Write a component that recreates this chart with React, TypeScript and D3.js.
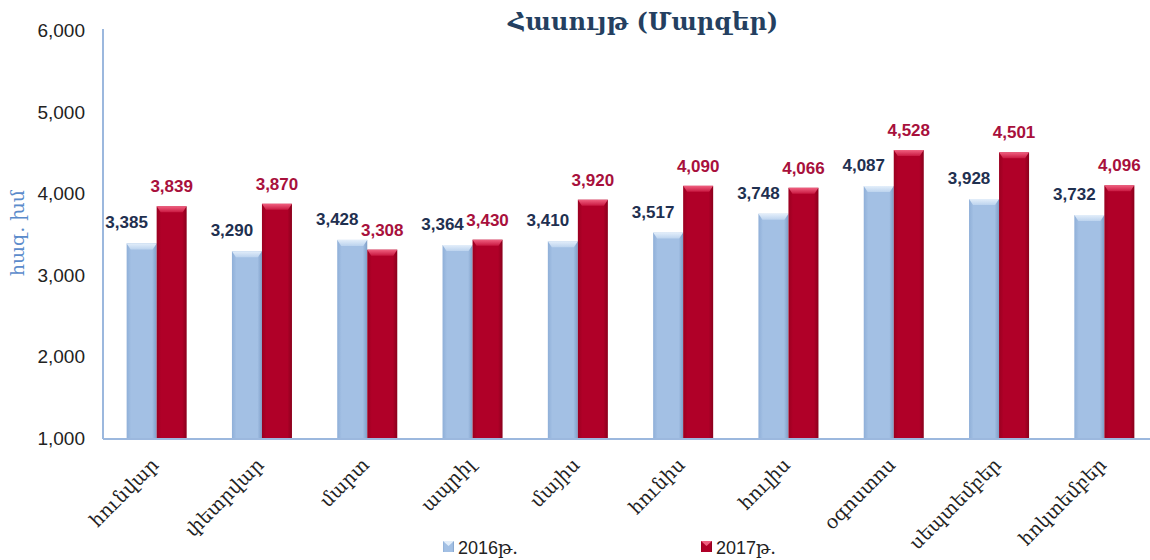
import React from "react";
import * as d3 from "d3";

const months = ["հունվար", "փետրվար", "մարտ", "ապրիլ", "մայիս", "հունիս", "հուլիս", "օգոստոս", "սեպտեմբեր", "հոկտեմբեր"];
const values2016 = [3385, 3290, 3428, 3364, 3410, 3517, 3748, 4087, 3928, 3732];
const values2017 = [3839, 3870, 3308, 3430, 3920, 4090, 4066, 4528, 4501, 4096];
const yTicks = [1000, 2000, 3000, 4000, 5000, 6000];
const seriesNames = ["2016թ.", "2017թ."];

const W = 1150;
const H = 560;
const left = 104;
const right = 1157;
const top = 30;
const bottom = 438;

export default function App() {
  const x = d3.scaleBand<string>().domain(months).range([left, right]).paddingInner(0.43).paddingOuter(0.215);
  const y = d3.scaleLinear().domain([1000, 6000]).range([bottom, top]);
  const bw = x.bandwidth() / 2;
  const fmt = d3.format(",");
  const serif = "'DejaVu Serif', serif";
  const sans = "'Liberation Sans', Arial, sans-serif";

  const bar = (xv: number, v: number, kind: "b" | "r", key: string) => {
    const yt = y(v);
    const h = bottom - yt;
    const cap = 6;
    return (
      <g key={key}>
        <rect x={xv} y={yt} width={bw} height={h} fill={`url(#side-${kind})`} />
        <polygon
          points={`${xv},${yt} ${xv + bw},${yt} ${xv + bw - 4},${yt + cap} ${xv + 4},${yt + cap}`}
          fill={`url(#cap-${kind})`}
        />
      </g>
    );
  };

  return (
    <div style={{ position: "absolute", left: 0, top: 0 }}>
      <svg width={W} height={H} style={{ display: "block", background: "#fff" }}>
        <defs>
          <linearGradient id="side-b" x1="0" x2="1" y1="0" y2="0">
            <stop offset="0" stopColor="#8FAFD8" />
            <stop offset="0.15" stopColor="#A3C0E4" />
            <stop offset="0.85" stopColor="#A3C0E4" />
            <stop offset="1" stopColor="#7F9FC8" />
          </linearGradient>
          <linearGradient id="cap-b" x1="0" x2="0" y1="0" y2="1">
            <stop offset="0" stopColor="#E3EEFA" />
            <stop offset="1" stopColor="#BCD3EE" />
          </linearGradient>
          <linearGradient id="side-r" x1="0" x2="1" y1="0" y2="0">
            <stop offset="0" stopColor="#9A0020" />
            <stop offset="0.15" stopColor="#B00028" />
            <stop offset="0.85" stopColor="#B00028" />
            <stop offset="1" stopColor="#8A001C" />
          </linearGradient>
          <linearGradient id="cap-r" x1="0" x2="0" y1="0" y2="1">
            <stop offset="0" stopColor="#F06080" />
            <stop offset="1" stopColor="#C81840" />
          </linearGradient>
        </defs>

        <text x={643} y={30} textAnchor="middle" fontFamily={serif} fontWeight="bold" fontSize={24} fill="#243F60">
          Հասույթ (Մարզեր)
        </text>

        <text
          transform={`translate(24,233) rotate(-90)`}
          textAnchor="middle"
          fontFamily={serif}
          fontSize={19}
          fill="#5B8BCB"
        >
          հազ. խմ
        </text>

        {yTicks.map((t) => (
          <text key={t} x={85} y={y(t) + 7} textAnchor="end" fontFamily={sans} fontSize={19} fill="#222">
            {fmt(t)}
          </text>
        ))}

        {months.map((m, i) => {
          const x0 = x(m)!;
          return (
            <g key={m}>
              {bar(x0, values2016[i], "b", "b" + i)}
              {bar(x0 + bw, values2017[i], "r", "r" + i)}
            </g>
          );
        })}

        <line x1={left - 1} x2={left - 1} y1={top - 1} y2={bottom + 1} stroke="#9CB8DE" strokeWidth={2} />
        <line x1={left - 1} x2={W} y1={bottom + 1} y2={bottom + 1} stroke="#9CB8DE" strokeWidth={2} />

        {months.map((m, i) => {
          const x0 = x(m)!;
          return (
            <g key={"l" + m}>
              <text
                x={x0 + bw / 2 - 15}
                y={y(values2016[i]) - 15}
                textAnchor="middle"
                fontFamily={sans}
                fontWeight="bold"
                fontSize={17}
                fill="#1F3050"
              >
                {fmt(values2016[i])}
              </text>
              <text
                x={x0 + bw * 1.5}
                y={y(values2017[i]) - 14}
                textAnchor="middle"
                fontFamily={sans}
                fontWeight="bold"
                fontSize={17}
                fill="#A8103C"
              >
                {fmt(values2017[i])}
              </text>
            </g>
          );
        })}

        {months.map((m) => {
          const cx = x(m)! + bw;
          return (
            <text
              key={"c" + m}
              transform={`translate(${cx + 3},${466}) rotate(-45)`}
              textAnchor="end"
              fontFamily={serif}
              fontSize={19}
              fill="#222"
            >
              {m}
            </text>
          );
        })}

        {seriesNames.map((s, i) => {
          const lx = i === 0 ? 443 : 701;
          return (
            <g key={s}>
              <rect x={lx} y={541} width={11} height={11} fill={i === 0 ? "url(#side-b)" : "url(#side-r)"} />
              <polygon
                points={`${lx},${541} ${lx + 11},${541} ${lx + 5.5},${546}`}
                fill={i === 0 ? "#E3EEFA" : "#F06080"}
              />
              <text x={lx + 15} y={554} fontFamily={sans} fontSize={18} fill="#222">
                {s.slice(0, 4)}
                <tspan fontFamily={serif}>{s.slice(4)}</tspan>
              </text>
            </g>
          );
        })}
      </svg>
    </div>
  );
}
